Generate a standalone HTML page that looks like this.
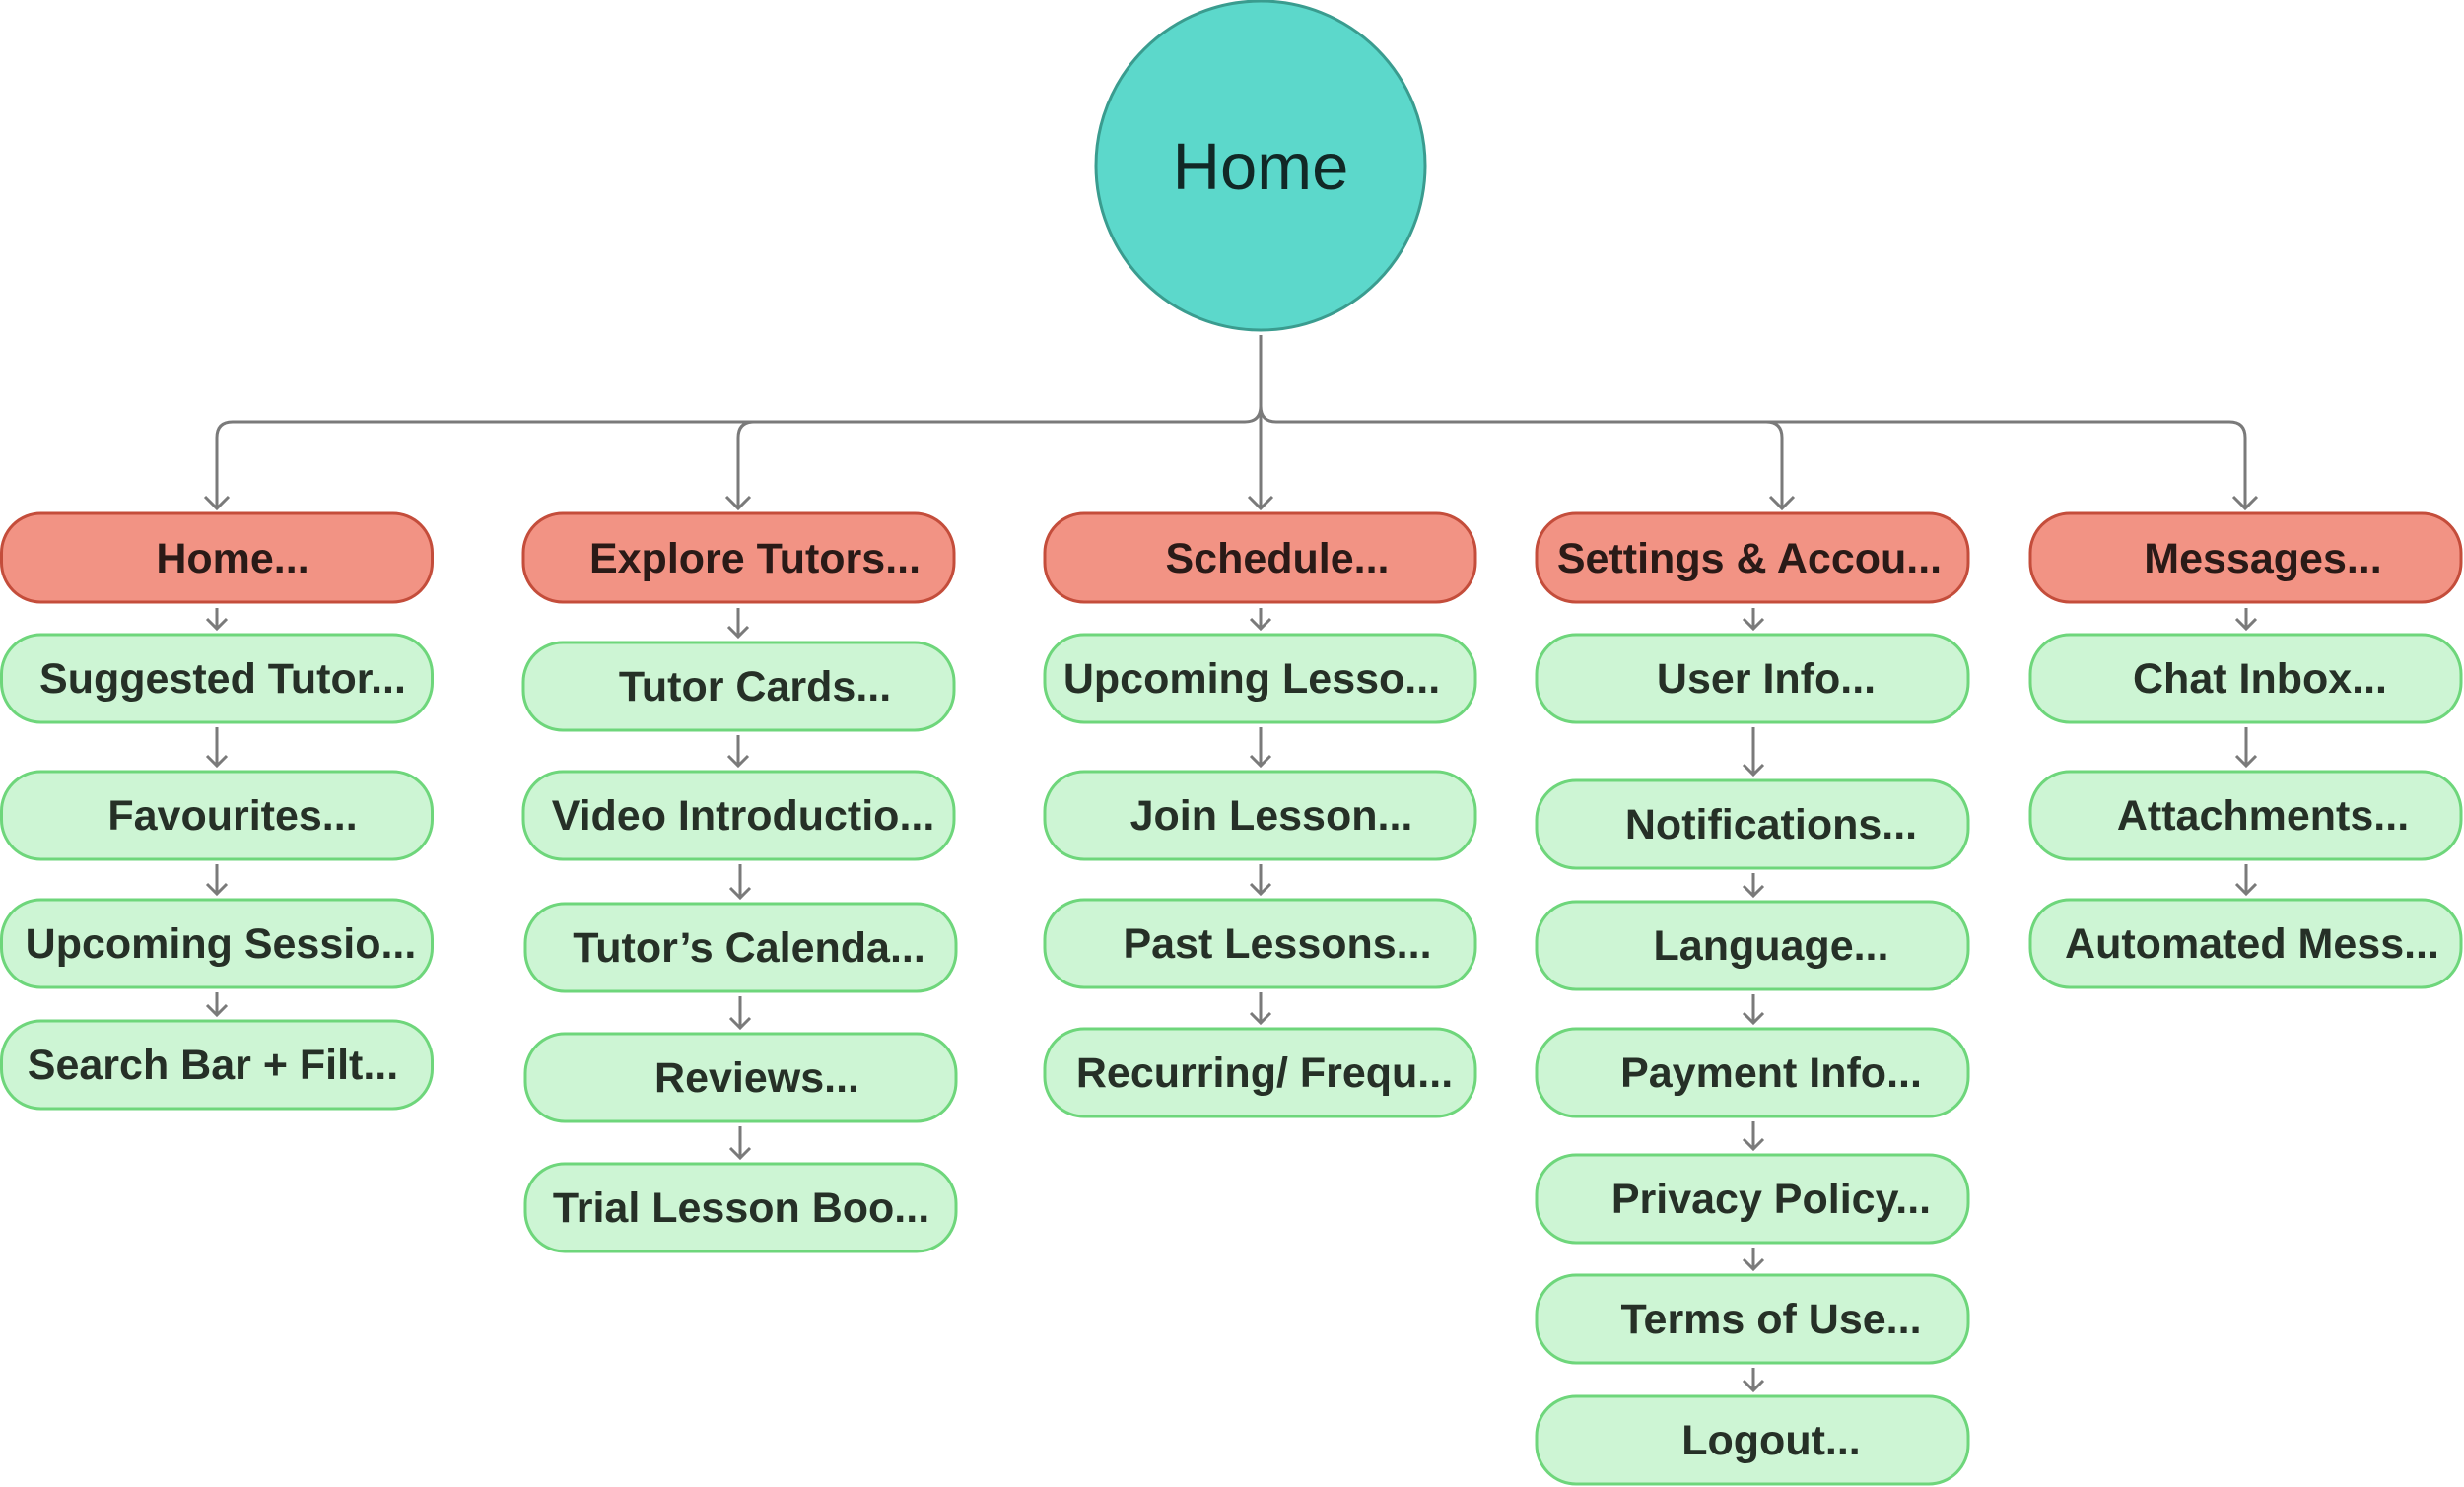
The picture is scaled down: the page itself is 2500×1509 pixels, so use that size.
<!DOCTYPE html>
<html><head><meta charset="utf-8"><style>
html,body{margin:0;padding:0;background:#fff;}
svg{display:block;}
text{font-family:"Liberation Sans",Arial,sans-serif;}
.r{fill:#f29384;stroke:#c44d3b;stroke-width:3;}
.g{fill:#cdf5d4;stroke:#6ed67b;stroke-width:3;}
.tr{font-weight:bold;font-size:43px;fill:#2a1a17;text-anchor:middle;}
.tg{font-weight:bold;font-size:43px;fill:#263027;text-anchor:middle;}
.c{stroke:#7a7a7a;stroke-width:3;fill:none;}
</style></head><body>
<svg width="2500" height="1509" viewBox="0 0 2500 1509" xmlns="http://www.w3.org/2000/svg">
<circle cx="1279" cy="168" r="167" fill="#5cd8cb" stroke="#3a9c8f" stroke-width="3"/>
<text x="1279" y="192" font-size="67" fill="#112826" text-anchor="middle">Home</text>

<path class="c" d="M1279 340 V412 Q1279 428 1263 428 H236 Q220 428 220 444 V516"/>
<path class="c" d="M1279 412 Q1279 428 1295 428 H2262 Q2278 428 2278 444 V516"/>
<path class="c" d="M1279 412 V516"/>
<path class="c" d="M765 428 Q749 428 749 444 V516"/>
<path class="c" d="M1792 428 Q1808 428 1808 444 V516"/>
<g class="c">
<path d="M208 504 L220 516 L232 504"/><path d="M737 504 L749 516 L761 504"/><path d="M1267 504 L1279 516 L1291 504"/><path d="M1796 504 L1808 516 L1820 504"/><path d="M2266 504 L2278 516 L2290 504"/>
</g>

<g id="boxes"></g>
<!-- red headers -->
<rect class="r" x="1.5" y="521" width="437" height="90" rx="40"/>
<rect class="r" x="531" y="521" width="437" height="90" rx="40"/>
<rect class="r" x="1060" y="521" width="437" height="90" rx="40"/>
<rect class="r" x="1559" y="521" width="438" height="90" rx="40"/>
<rect class="r" x="2060" y="521" width="437" height="90" rx="40"/>
<text class="tr" x="236" y="581">Home...</text>
<text class="tr" x="766" y="581">Explore Tutors...</text>
<text class="tr" x="1296" y="581">Schedule...</text>
<text class="tr" x="1775" y="581">Settings &amp; Accou...</text>
<text class="tr" x="2296" y="581">Messages...</text>

<!-- col1 -->
<rect class="g" x="1.5" y="644" width="437" height="89" rx="40"/>
<rect class="g" x="1.5" y="783" width="437" height="89" rx="40"/>
<rect class="g" x="1.5" y="913" width="437" height="89" rx="40"/>
<rect class="g" x="1.5" y="1036" width="437" height="89" rx="40"/>
<text class="tg" x="226" y="703">Suggested Tutor...</text>
<text class="tg" x="236" y="842">Favourites...</text>
<text class="tg" x="224" y="972">Upcoming Sessio...</text>
<text class="tg" x="216" y="1095">Search Bar + Filt...</text>

<!-- col2 -->
<rect class="g" x="531" y="652" width="437" height="89" rx="40"/>
<rect class="g" x="531" y="783" width="437" height="89" rx="40"/>
<rect class="g" x="533" y="917" width="437" height="89" rx="40"/>
<rect class="g" x="533" y="1049" width="437" height="89" rx="40"/>
<rect class="g" x="533" y="1181" width="437" height="89" rx="40"/>
<text class="tg" x="766" y="711">Tutor Cards...</text>
<text class="tg" x="754" y="842">Video Introductio...</text>
<text class="tg" x="760" y="976">Tutor’s Calenda...</text>
<text class="tg" x="768" y="1108">Reviews...</text>
<text class="tg" x="752" y="1240">Trial Lesson Boo...</text>

<!-- col3 -->
<rect class="g" x="1060" y="644" width="437" height="89" rx="40"/>
<rect class="g" x="1060" y="783" width="437" height="89" rx="40"/>
<rect class="g" x="1060" y="913" width="437" height="89" rx="40"/>
<rect class="g" x="1060" y="1044" width="437" height="89" rx="40"/>
<text class="tg" x="1270" y="703">Upcoming Lesso...</text>
<text class="tg" x="1290" y="842">Join Lesson...</text>
<text class="tg" x="1296" y="972">Past Lessons...</text>
<text class="tg" x="1283" y="1103">Recurring/ Frequ...</text>

<!-- col4 -->
<rect class="g" x="1559" y="644" width="438" height="89" rx="40"/>
<rect class="g" x="1559" y="792" width="438" height="89" rx="40"/>
<rect class="g" x="1559" y="915" width="438" height="89" rx="40"/>
<rect class="g" x="1559" y="1044" width="438" height="89" rx="40"/>
<rect class="g" x="1559" y="1172" width="438" height="89" rx="40"/>
<rect class="g" x="1559" y="1294" width="438" height="89" rx="40"/>
<rect class="g" x="1559" y="1417" width="438" height="89" rx="40"/>
<text class="tg" x="1792" y="703">User Info...</text>
<text class="tg" x="1797" y="851">Notifications...</text>
<text class="tg" x="1797" y="974">Language...</text>
<text class="tg" x="1797" y="1103">Payment Info...</text>
<text class="tg" x="1797" y="1231">Privacy Policy...</text>
<text class="tg" x="1797" y="1353">Terms of Use...</text>
<text class="tg" x="1797" y="1476">Logout...</text>

<!-- col5 -->
<rect class="g" x="2060" y="644" width="437" height="89" rx="40"/>
<rect class="g" x="2060" y="783" width="437" height="89" rx="40"/>
<rect class="g" x="2060" y="913" width="437" height="89" rx="40"/>
<text class="tg" x="2293" y="703">Chat Inbox...</text>
<text class="tg" x="2296" y="842">Attachments...</text>
<text class="tg" x="2285" y="972">Automated Mess...</text>

<!-- small arrows -->
<g class="c">
<path d="M220 617 V638 M210 628 L220 638 L230 628"/>
<path d="M220 738 V777 M210 767 L220 777 L230 767"/>
<path d="M220 877 V907 M210 897 L220 907 L230 897"/>
<path d="M220 1007 V1030 M210 1020 L220 1030 L230 1020"/>

<path d="M749 617 V646 M739 636 L749 646 L759 636"/>
<path d="M749 746 V777 M739 767 L749 777 L759 767"/>
<path d="M751 877 V911 M741 901 L751 911 L761 901"/>
<path d="M751 1011 V1043 M741 1033 L751 1043 L761 1033"/>
<path d="M751 1143 V1175 M741 1165 L751 1175 L761 1165"/>

<path d="M1279 617 V638 M1269 628 L1279 638 L1289 628"/>
<path d="M1279 738 V777 M1269 767 L1279 777 L1289 767"/>
<path d="M1279 877 V907 M1269 897 L1279 907 L1289 897"/>
<path d="M1279 1007 V1038 M1269 1028 L1279 1038 L1289 1028"/>

<path d="M1779 617 V638 M1769 628 L1779 638 L1789 628"/>
<path d="M1779 738 V786 M1769 776 L1779 786 L1789 776"/>
<path d="M1779 886 V909 M1769 899 L1779 909 L1789 899"/>
<path d="M1779 1009 V1038 M1769 1028 L1779 1038 L1789 1028"/>
<path d="M1779 1138 V1166 M1769 1156 L1779 1166 L1789 1156"/>
<path d="M1779 1266 V1288 M1769 1278 L1779 1288 L1789 1278"/>
<path d="M1779 1388 V1411 M1769 1401 L1779 1411 L1789 1401"/>

<path d="M2279 617 V638 M2269 628 L2279 638 L2289 628"/>
<path d="M2279 738 V777 M2269 767 L2279 777 L2289 767"/>
<path d="M2279 877 V907 M2269 897 L2279 907 L2289 897"/>
</g>
</svg>
</body></html>
